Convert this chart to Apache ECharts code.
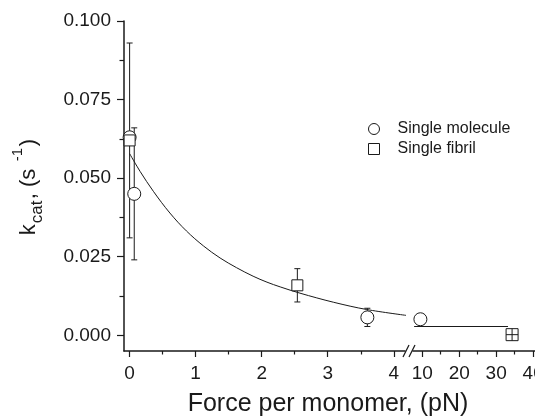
<!DOCTYPE html>
<html>
<head>
<meta charset="utf-8">
<script src="https://cdn.jsdelivr.net/npm/echarts@6/dist/echarts.min.js"></script>
<style>
  html, body { margin: 0; padding: 0; background: #fff; }
  #chart { width: 535px; height: 419px; }
</style>
</head>
<body>
<div id="chart"></div>
<script>
// ---- data: low-force segment (0–4 pN) ----
const moleculeForceLow = [0, 0.07, 3.6];
const moleculeRateLow  = [0.063, 0.045, 0.0057];
const moleculeErrLow   = [0, 0.021, 0.0029];
const fibrilForceLow   = [0, 2.54];
const fibrilRateLow    = [0.062, 0.0159];
const fibrilErrLow     = [0.031, 0.0053];

// ---- data: high-force segment (10–40 pN) ----
const moleculeForceHigh = [9.5];
const moleculeRateHigh  = [0.0051];
const fibrilForceHigh   = [34.3];
const fibrilRateHigh    = [0.0002];

// ---- fitted decay, sampled along the curve ----
const fitForceLow = [0, 0.16, 0.36, 0.61, 0.86, 1.12, 1.37, 1.62, 1.87, 2.08, 2.28, 2.58, 3.09, 3.59, 4.2];
const fitRateLow  = [0.0578, 0.0521, 0.0458, 0.0389, 0.0332, 0.0284, 0.0246, 0.0215, 0.0188, 0.0169, 0.0154, 0.0134, 0.0105, 0.0082, 0.0063];
const fitForceHigh = [7.8, 33.2];
const fitRateHigh  = [0.0028, 0.0028];

// ---- ticks ----
const yTicks = [0, 0.025, 0.05, 0.075, 0.1];
const yMinorTicks = [0.0125, 0.0375, 0.0625, 0.0875];
const xTicksLow = [0, 1, 2, 3, 4];
const xMinorTicksLow = [0.5, 1.5, 2.5, 3.5];
const xTicksHigh = [10, 20, 30, 40];
const xMinorTicksHigh = [15, 25, 35];

const FONT = "'Liberation Sans', Arial, Helvetica, sans-serif";
const INK = '#1a1a1a';

// layout of the two panels of the broken axis
const GRID_TOP = 21, GRID_BOTTOM = 68;
const LEFT_X0 = 124, LEFT_X1 = 405, RIGHT_X0 = 413;
const W = 535, H = 419;
const AXIS_Y = H - GRID_BOTTOM;

const zip = (xs, ys) => xs.map((x, i) => [x, ys[i]]);
const withErr = (xs, ys, es) => xs.map((x, i) => [x, ys[i], es[i]]).filter(d => d[2] > 0);

const errData = withErr(fibrilForceLow, fibrilRateLow, fibrilErrLow)
  .concat(withErr(moleculeForceLow, moleculeRateLow, moleculeErrLow));

function renderErr(params, api) {
  const x = api.value(0), y = api.value(1), e = api.value(2);
  const top = api.coord([x, y + e]);
  const bot = api.coord([x, y - e]);
  const cap = 3;
  const st = { stroke: INK, lineWidth: 1 };
  return {
    type: 'group',
    children: [
      { type: 'line', shape: { x1: top[0], y1: top[1], x2: bot[0], y2: bot[1] }, style: st },
      { type: 'line', shape: { x1: top[0] - cap, y1: top[1], x2: top[0] + cap, y2: top[1] }, style: st },
      { type: 'line', shape: { x1: bot[0] - cap, y1: bot[1], x2: bot[0] + cap, y2: bot[1] }, style: st }
    ]
  };
}

const axisLineStyle = { color: INK, width: 1.5 };
const labelStyle = { color: INK, fontSize: 19, fontFamily: FONT };

function xMajor(grid, min, max, ticks) {
  return {
    type: 'value', gridIndex: grid, position: 'bottom', min, max,
    axisLine: { show: true, onZero: false, lineStyle: axisLineStyle },
    axisTick: { show: true, length: 6, customValues: ticks, lineStyle: { color: INK, width: 1.2 } },
    axisLabel: { show: true, customValues: ticks, margin: 13, ...labelStyle, formatter: v => String(v) },
    splitLine: { show: false }
  };
}
function xMinor(grid, min, max, ticks) {
  return {
    type: 'value', gridIndex: grid, position: 'bottom', min, max,
    axisLine: { show: false, onZero: false },
    axisTick: { show: true, length: 3.5, customValues: ticks, lineStyle: { color: INK, width: 1.2 } },
    axisLabel: { show: false },
    splitLine: { show: false }
  };
}

const hollow = { color: '#fff', borderColor: INK, borderWidth: 1, opacity: 1 };

const option = {
  animation: false,
  backgroundColor: '#fff',
  textStyle: { fontFamily: FONT, color: INK },
  grid: [
    { left: LEFT_X0, right: W - LEFT_X1, top: GRID_TOP, bottom: GRID_BOTTOM, outerBoundsMode: 'none', containLabel: false },
    { left: RIGHT_X0, right: 0, top: GRID_TOP, bottom: GRID_BOTTOM, outerBoundsMode: 'none', containLabel: false }
  ],
  xAxis: [
    xMajor(0, -0.085, 4.17, xTicksLow),
    xMinor(0, -0.085, 4.17, xMinorTicksLow),
    xMajor(1, 7.5, 40.5, xTicksHigh),
    xMinor(1, 7.5, 40.5, xMinorTicksHigh)
  ],
  yAxis: [
    {
      type: 'value', gridIndex: 0, position: 'left', min: -0.005, max: 0.1,
      axisLine: { show: true, onZero: false, lineStyle: axisLineStyle },
      axisTick: { show: true, length: 7, customValues: yTicks, lineStyle: { color: INK, width: 1.2 } },
      axisLabel: { show: true, customValues: yTicks, margin: 13, ...labelStyle, formatter: v => v.toFixed(3) },
      splitLine: { show: false }
    },
    {
      type: 'value', gridIndex: 0, position: 'left', min: -0.005, max: 0.1,
      axisLine: { show: false, onZero: false },
      axisTick: { show: true, length: 4.5, customValues: yMinorTicks, lineStyle: { color: INK, width: 1.2 } },
      axisLabel: { show: false },
      splitLine: { show: false }
    },
    {
      type: 'value', gridIndex: 1, min: -0.005, max: 0.1, show: false,
      axisLine: { onZero: false },
      splitLine: { show: false }
    }
  ],
  legend: {
    orient: 'vertical',
    left: 363, top: 116, padding: 5,
    itemWidth: 11, itemHeight: 11, itemGap: 4,
    data: [{ name: 'Single molecule', icon: 'circle' }, { name: 'Single fibril', icon: 'rect' }],
    itemStyle: { color: '#fff', borderColor: INK, borderWidth: 1 },
    textStyle: { fontSize: 16, fontFamily: FONT, color: INK, padding: [0, 0, 0, 13] },
    selectedMode: false
  },
  series: [
    {
      type: 'custom', name: 'err', xAxisIndex: 0, yAxisIndex: 0,
      data: errData, renderItem: renderErr, silent: true, z: 1
    },
    {
      type: 'line', name: 'fit', xAxisIndex: 0, yAxisIndex: 0,
      data: zip(fitForceLow, fitRateLow), smooth: 0.35, showSymbol: false, clip: false,
      lineStyle: { color: INK, width: 1 }, silent: true, z: 2
    },
    {
      type: 'line', name: 'fit2', xAxisIndex: 2, yAxisIndex: 2,
      data: zip(fitForceHigh, fitRateHigh), showSymbol: false, clip: false,
      lineStyle: { color: INK, width: 1.2 }, silent: true, z: 2
    },
    {
      type: 'scatter', name: 'Single molecule', xAxisIndex: 0, yAxisIndex: 0,
      data: zip(moleculeForceLow, moleculeRateLow), symbol: 'circle', symbolSize: 13,
      itemStyle: hollow, z: 3
    },
    {
      type: 'scatter', name: 'Single fibril', xAxisIndex: 0, yAxisIndex: 0,
      data: zip(fibrilForceLow, fibrilRateLow), symbol: 'rect', symbolSize: 11,
      itemStyle: hollow, z: 4
    },
    {
      type: 'scatter', name: 'Single molecule', xAxisIndex: 2, yAxisIndex: 2,
      data: zip(moleculeForceHigh, moleculeRateHigh), symbol: 'circle', symbolSize: 13,
      itemStyle: hollow, z: 3
    },
    {
      type: 'scatter', name: 'Single fibril', xAxisIndex: 2, yAxisIndex: 2,
      data: zip(fibrilForceHigh, fibrilRateHigh),
      symbol: 'path://M0,0H10V10H0ZM5,0V10M0,5H10', symbolSize: 12,
      itemStyle: hollow, z: 4
    }
  ],
  graphic: [
    // axis break marks
    {
      type: 'group', silent: true,
      children: [
        { type: 'rect', shape: { x: LEFT_X1 + 0.5, y: AXIS_Y - 2, width: RIGHT_X0 - LEFT_X1 - 1, height: 4 }, style: { fill: '#fff' } },
        { type: 'line', shape: { x1: LEFT_X1 - 2, y1: AXIS_Y + 6, x2: LEFT_X1 + 4, y2: AXIS_Y - 6 }, style: { stroke: INK, lineWidth: 1.2 } },
        { type: 'line', shape: { x1: LEFT_X1 + 4, y1: AXIS_Y + 6, x2: LEFT_X1 + 10, y2: AXIS_Y - 6 }, style: { stroke: INK, lineWidth: 1.2 } }
      ]
    },
    // x-axis title
    {
      type: 'text', x: 328, y: 404, silent: true,
      style: { text: 'Force per monomer, (pN)', fontSize: 25, fontFamily: FONT, fill: INK,
               align: 'center', verticalAlign: 'middle', textAlign: 'center', textVerticalAlign: 'middle' }
    },
    // y-axis title: k_cat, (s^-1), read bottom to top
    {
      type: 'group', x: 36.7, y: 235.3, rotation: Math.PI / 2, silent: true,
      children: [
        { type: 'text', x: 0, y: -7.9, style: { text: 'k', fontSize: 22, fontFamily: FONT, fill: INK, verticalAlign: 'middle', textVerticalAlign: 'middle' } },
        { type: 'text', x: 12, y: 1.1, style: { text: 'cat', fontSize: 17, fontFamily: FONT, fill: INK, verticalAlign: 'middle', textVerticalAlign: 'middle' } },
        { type: 'text', x: 36, y: -7.9, style: { text: ', (s', fontSize: 22, fontFamily: FONT, fill: INK, verticalAlign: 'middle', textVerticalAlign: 'middle' } },
        { type: 'text', x: 74, y: -19.2, style: { text: '-1', fontSize: 15, fontFamily: FONT, fill: INK, verticalAlign: 'middle', textVerticalAlign: 'middle' } },
        { type: 'text', x: 89, y: -7.9, style: { text: ')', fontSize: 22, fontFamily: FONT, fill: INK, verticalAlign: 'middle', textVerticalAlign: 'middle' } }
      ]
    }
  ]
};

const chart = echarts.init(document.getElementById('chart'), null, { renderer: 'canvas' });
chart.setOption(option);
</script>
</body>
</html>
